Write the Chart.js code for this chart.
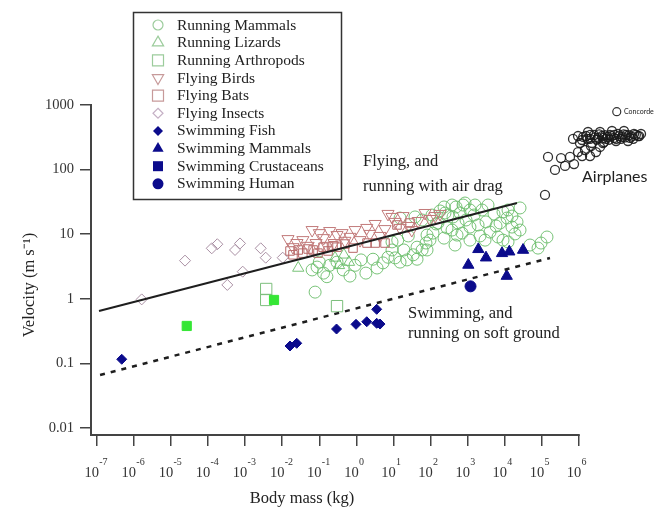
<!DOCTYPE html>
<html><head><meta charset="utf-8">
<script src="https://cdn.jsdelivr.net/npm/chart.js@4.4.1/dist/chart.umd.min.js"></script>
<style>html,body{margin:0;padding:0;background:#fff;overflow:hidden}canvas{display:block}</style>
</head><body>
<canvas id="c" width="667" height="511" style="width:667px;height:511px"></canvas>
<script>
// ---- data: [body mass (kg), velocity (m/s)] ----
const runningMammals = [
  [0.064,2.8],[0.087,3.1],[0.13,2.5],[0.16,2.2],[0.077,1.27],[0.19,3.3],[0.10,3.7],
  [0.30,3.7],[0.44,2.8],[0.67,2.25],[0.92,3.3],[1.33,4.0],[1.8,2.5],[2.8,4.1],[3.6,3.0],[5.2,3.6],[7.1,4.4],
  [9.1,5.7],[9.1,7.6],[11,4.3],[15,3.7],[19,5.7],[23,4.0],[34,4.8],[43,4.1],[43,6.3],[59,5.7],[75,7.3],
  [59,16.6],[80,9.7],[109,19.8],[15,17.8],[38,18.5],[13,8.1],[25,9.4],
  [140,14.4],[179,22.9],[230,26.4],[294,19.8],[378,28.3],[484,26.4],[620,21.3],[747,28.3],[402,18.5],
  [378,11.6],[548,14.9],[702,10.4],[900,16.6],[1150,12.9],[1480,19.8],[1900,13.9],[2430,23.7],[3110,15.5],
  [3990,10.8],[5120,20.5],[5790,13.4],[7430,14.9],[8940,22.1],[11500,17.8],[12200,23.7],[15600,12.9],
  [21300,15.5],[25700,25.5],[96,8.1],[80,5.7],[116,10.4],[158,14.9],[244,21.3],[230,8.7],[1150,23.7],
  [3520,28.3],[6560,9.05],[8940,8.1],[12200,7.6],[18800,10.1],[1150,8.1],[2150,9.4],[455,6.8],[277,12.5],
  [515,9.7],[2930,8.1],[845,30.4],[1570,28.3],[15600,19.1],[25700,11.6],
  [47800,6.8],[78500,6.1],[137000,9.05],[94600,7.3]
];
const runningLizards = [[0.027,3.0],[0.265,4.3],[0.34,3.3],[0.46,4.8],[0.63,3.7]];
const runningArthropods = [[0.0037,1.42],[0.0037,0.96],[0.30,0.77]];
const flyingBirds = [
  [0.0143,8.4],[0.0195,6.3],[0.025,7.3],[0.036,8.1],[0.050,6.6],[0.064,11.6],[0.082,7.3],[0.10,10.4],
  [0.13,8.7],[0.16,6.6],[0.19,11.2],[0.25,7.3],[0.30,9.7],[0.41,10.4],[0.49,7.9],[0.67,9.1],[0.92,11.6],
  [1.25,8.1],[1.9,12.5],[2.3,10.1],[3.2,14.4],[4.3,9.4],[5.9,12.0],[7.1,20.6],[9.1,18.5],[11,15.5],
  [15,12.5],[18,19.1],[25,13.4],[31,11.6],[46,16.0],[71,21.3],[96,17.2],[132,19.1],[179,20.6]
];
const flyingBats = [
  [0.0162,5.5],[0.0195,4.8],[0.027,5.7],[0.036,5.1],[0.050,5.9],[0.068,5.7],[0.092,5.1],[0.126,6.3],
  [0.172,5.5],[0.234,6.6],[0.30,6.3],[0.49,7.05],[0.81,6.1],[1.93,7.3],[3.2,7.3],[5.9,7.3],[12.4,13.9],[27.9,14.9]
];
const flyingInsects = [
  [1.63e-6,0.98],[2.4e-5,3.9],[1.26e-4,6.05],[1.78e-4,7.0],[5.35e-4,5.7],[7.29e-4,7.2],[3.31e-4,1.64],
  [8.61e-4,2.63],[2.63e-3,6.05],[3.59e-3,4.33],[1.03e-2,4.33]
];
const swimmingFish = [
  [4.72e-7,0.116],[0.0162,0.186],[0.0246,0.205],[0.291,0.341],[0.975,0.403],[1.90,0.442],
  [3.52,0.418],[4.33,0.407],[3.52,0.688]
];
const swimmingMammals = [[1930,5.84],[3110,4.33],[1038,3.34],[8410,5.06],[13200,5.36],[31000,5.69],[11250,2.25]];
const swimmingCrustaceans = [[2.67e-5,0.38],[6.01e-3,0.96]];
const swimmingHuman = [[1190,1.56]];
const airplanes = [
  [6.89e5,298],[9.4e5,331],[1.21e6,287],[1.55e6,331],[1.98e6,298],[2.54e6,343],[3.25e6,309],[4.17e6,331],
  [5.35e6,298],[6.86e6,343],[8.77e6,309],[1.12e7,356],[1.44e7,320],[1.85e7,343],[2.37e7,309],[3.03e7,356],
  [3.89e7,331],[4.69e7,356],[1.06e6,258],[2.24e6,258],[4.72e6,267],[9.93e6,277],[2.09e7,277],[1.75e6,382],
  [3.68e6,382],[7.74e6,396],[1.63e7,396],
  [1.3e6,320],[1.7e6,300],[2.0e6,345],[2.7e6,315],[3.0e6,290],[3.5e6,350],[4.5e6,310],[5.0e6,340],
  [6.0e6,320],[6.5e6,290],[7.5e6,330],[9.0e6,345],[1.0e7,300],[1.2e7,330],[1.35e7,300],[1.6e7,350],
  [1.75e7,315],[2.2e7,340],[2.6e7,325],[2.9e7,300],[3.4e7,345],[4.2e7,330],
  [1.46e5,157],[2.25e5,98.7],[3.27e5,151],[4.2e5,114],[5.71e5,157],[7.33e5,122],[9.4e5,187],[1.21e6,162],
  [1.45e6,201],[1.98e6,162],[2.1e6,232],[2.87e6,187],[3.68e6,224],[4.44e6,258],[1.21e5,40.5]
];
const concorde = [[1.04e7,787]];
const airDragLine = [[1.15e-7,0.647],[2.13e4,30.4]];
const softGroundLine = [[1.23e-7,0.0661],[1.65e5,4.28]];

const xTickExponents = [-7,-6,-5,-4,-3,-2,-1,0,1,2,3,4,5,6];
const yTickValues = [0.01,0.1,1,10,100,1000];
const yTickLabels = ['0.01','0.1','1','10','100','1000'];
const legendLabels = ['Running Mammals','Running Lizards','Running Arthropods','Flying Birds','Flying Bats',
  'Flying Insects','Swimming Fish','Swimming Mammals','Swimming Crustaceans','Swimming Human'];

// ---- styles ----
const SERIF = '"Liberation Serif", "Times New Roman", serif';
const SANS = 'Lato, "Open Sans", sans-serif';
const GREEN = 'rgba(105,188,105,0.9)';
const ROSE = '#c27a7a';
const BAT = '#b86868';
const MAUVE = '#a98fa3';
const BLUE = '#0b0b8c';
const LIME = '#35e635';
const AXIS = '#444';

const pts = a => a.map(([x, y]) => ({x, y}));
function ds(label, arr, o) {
  return Object.assign({label, data: pts(arr), clip: false, borderWidth: 1,
    backgroundColor: 'rgba(0,0,0,0)', order: 5}, o);
}
const datasets = [
  ds('Running Mammals', runningMammals, {pointStyle:'circle', pointRadius:6, borderColor:GREEN, order:6}),
  ds('Running Lizards', runningLizards, {pointStyle:'triangle', pointRadius:6.5, borderColor:GREEN}),
  ds('Running Arthropods', runningArthropods, {pointStyle:'rect', pointRadius:8, borderColor:'#7cbf7c'}),
  ds('Flying Birds', flyingBirds, {pointStyle:'triangle', pointRotation:180, pointRadius:7, borderColor:ROSE}),
  ds('Flying Bats', flyingBats, {pointStyle:'rect', pointRadius:6, borderColor:BAT}),
  ds('Flying Insects', flyingInsects, {pointStyle:'rectRot', pointRadius:5.5, borderColor:MAUVE}),
  ds('Swimming Fish', swimmingFish, {pointStyle:'rectRot', pointRadius:5, borderColor:BLUE, backgroundColor:BLUE, order:2}),
  ds('Swimming Mammals', swimmingMammals, {pointStyle:'triangle', pointRadius:6.5, borderColor:BLUE, backgroundColor:BLUE, order:2}),
  ds('Swimming Crustaceans', swimmingCrustaceans, {pointStyle:'rect', pointRadius:6.5, borderColor:LIME, backgroundColor:LIME, order:2}),
  ds('Swimming Human', swimmingHuman, {pointStyle:'circle', pointRadius:5.5, borderColor:BLUE, backgroundColor:BLUE, order:2}),
  ds('Airplanes', airplanes, {pointStyle:'circle', pointRadius:4.5, borderColor:'rgba(25,25,25,0.9)', borderWidth:1.3}),
  ds('Concorde', concorde, {pointStyle:'circle', pointRadius:4, borderColor:'#333', borderWidth:1.2}),
  ds('air drag', airDragLine, {showLine:true, pointRadius:0, borderColor:'#1e1e1e', borderWidth:2, order:0}),
  ds('soft ground', softGroundLine, {showLine:true, pointRadius:0, borderColor:'#1e1e1e', borderWidth:2.5, borderDash:[5,6], order:0})
];

const legendMarkers = {
  'Running Mammals': {shape:'circle', r:5, stroke:'#9ccc9c'},
  'Running Lizards': {shape:'triUp', r:6.5, stroke:'#9ccc9c'},
  'Running Arthropods': {shape:'square', r:5.5, stroke:'#9ccc9c'},
  'Flying Birds': {shape:'triDown', r:6.5, stroke:'#c79a9a'},
  'Flying Bats': {shape:'square', r:5.5, stroke:'#c79a9a'},
  'Flying Insects': {shape:'diamond', r:5, stroke:'#c5b0c5'},
  'Swimming Fish': {shape:'diamond', r:5, fill:BLUE},
  'Swimming Mammals': {shape:'triUp', r:6.5, fill:BLUE},
  'Swimming Crustaceans': {shape:'square', r:5, fill:BLUE},
  'Swimming Human': {shape:'circle', r:5.5, fill:BLUE}
};

function marker(ctx, m, x, y) {
  const r = m.r;
  ctx.save();
  ctx.beginPath();
  if (m.shape === 'circle') ctx.arc(x, y, r, 0, Math.PI * 2);
  else if (m.shape === 'triUp') { ctx.moveTo(x, y - r); ctx.lineTo(x + r*0.866, y + r*0.5); ctx.lineTo(x - r*0.866, y + r*0.5); ctx.closePath(); }
  else if (m.shape === 'triDown') { ctx.moveTo(x, y + r); ctx.lineTo(x + r*0.866, y - r*0.5); ctx.lineTo(x - r*0.866, y - r*0.5); ctx.closePath(); }
  else if (m.shape === 'square') ctx.rect(x - r, y - r, 2*r, 2*r);
  else if (m.shape === 'diamond') { ctx.moveTo(x, y - r); ctx.lineTo(x + r, y); ctx.lineTo(x, y + r); ctx.lineTo(x - r, y); ctx.closePath(); }
  if (m.fill) { ctx.fillStyle = m.fill; ctx.fill(); }
  if (m.stroke) { ctx.strokeStyle = m.stroke; ctx.lineWidth = 1.2; ctx.stroke(); }
  ctx.restore();
}

const decorPlugin = {
  id: 'decor',
  beforeDatasetsDraw(chart) {
    // x axis line, only up to the last labelled decade
    const ctx = chart.ctx, xs = chart.scales.x, a = chart.chartArea;
    ctx.save();
    ctx.strokeStyle = AXIS;
    ctx.lineWidth = 2;
    ctx.beginPath();
    ctx.moveTo(a.left - 1, a.bottom);
    ctx.lineTo(xs.getPixelForValue(Math.pow(10, xTickExponents[xTickExponents.length - 1])) + 0.75, a.bottom);
    ctx.stroke();
    ctx.restore();
  },
  afterDraw(chart) {
    const ctx = chart.ctx;
    const xs = chart.scales.x;
    ctx.save();
    // exponents of x tick labels
    ctx.fillStyle = '#333';
    ctx.font = '10px ' + SERIF;
    ctx.textAlign = 'left';
    ctx.textBaseline = 'alphabetic';
    xTickExponents.forEach(e => {
      const px = xs.getPixelForValue(Math.pow(10, e));
      ctx.fillText(String(e), px + 2.5, 465);
    });
    // axis titles
    ctx.fillStyle = '#222';
    ctx.font = '16.5px ' + SERIF;
    ctx.textAlign = 'center';
    ctx.textBaseline = 'middle';
    ctx.fillText('Body mass (kg)', 302, 499);
    ctx.save();
    ctx.translate(30, 285);
    ctx.rotate(-Math.PI / 2);
    ctx.fillText('Velocity (m s\u207B\u00B9)', 0, 0);
    ctx.restore();
    // annotations
    ctx.textAlign = 'left';
    ctx.textBaseline = 'alphabetic';
    ctx.font = '16.5px ' + SERIF;
    ctx.fillText('Flying, and', 363, 166);
    ctx.fillText('running with air drag', 363, 191);
    ctx.fillText('Swimming, and', 408, 318);
    ctx.fillText('running on soft ground', 408, 338);
    ctx.font = '16px ' + SANS;
    ctx.textBaseline = 'middle';
    ctx.fillText('Airplanes', 582, 177);
    ctx.font = '7px ' + SANS;
    ctx.fillText('Concorde', 624, 112);
    // legend
    ctx.fillStyle = '#fff';
    ctx.fillRect(133, 12, 209, 188);
    ctx.strokeStyle = '#333';
    ctx.lineWidth = 1.5;
    ctx.strokeRect(133.5, 12.5, 208, 187);
    ctx.font = '15.5px ' + SERIF;
    ctx.textBaseline = 'middle';
    legendLabels.forEach((lab, i) => {
      const y = 25 + i * 17.65;
      marker(ctx, legendMarkers[lab], 158, y);
      ctx.fillStyle = '#222';
      ctx.fillText(lab, 177, y + 0.5);
    });
    ctx.restore();
  }
};

new Chart(document.getElementById('c'), {
  type: 'scatter',
  data: {datasets},
  plugins: [decorPlugin],
  options: {
    responsive: false,
    animation: false,
    events: [],
    layout: {padding: {top: 105, right: 21.2, left: 0, bottom: 0}},
    plugins: {legend: {display: false}, tooltip: {enabled: false}, title: {display: false}},
    scales: {
      x: {
        type: 'logarithmic', position: 'bottom',
        min: 7.01e-8, max: 6.31e7,
        afterFit(s) { s.height = 76; },
        afterBuildTicks(s) { s.ticks = xTickExponents.map(e => ({value: Math.pow(10, e)})); },
        grid: {drawOnChartArea: false, drawTicks: true, tickLength: 11, color: AXIS, lineWidth: 1.5},
        border: {display: false},
        ticks: {autoSkip: false, maxRotation: 0, minRotation: 0, padding: 18, labelOffset: -5,
          color: '#333', font: {family: SERIF, size: 14.5}, callback: () => '10'}
      },
      y: {
        type: 'logarithmic', position: 'left',
        min: 0.0078, max: 1000,
        afterFit(s) { s.width = 91; },
        afterBuildTicks(s) { s.ticks = yTickValues.map(v => ({value: v})); },
        grid: {drawOnChartArea: false, drawTicks: true, tickLength: 11, color: AXIS, lineWidth: 1.5},
        border: {display: true, color: AXIS, width: 2},
        ticks: {autoSkip: false, padding: 6, color: '#333', font: {family: SERIF, size: 14.5},
          callback: (v, i) => yTickLabels[i]}
      }
    }
  }
});
</script>
</body></html>
